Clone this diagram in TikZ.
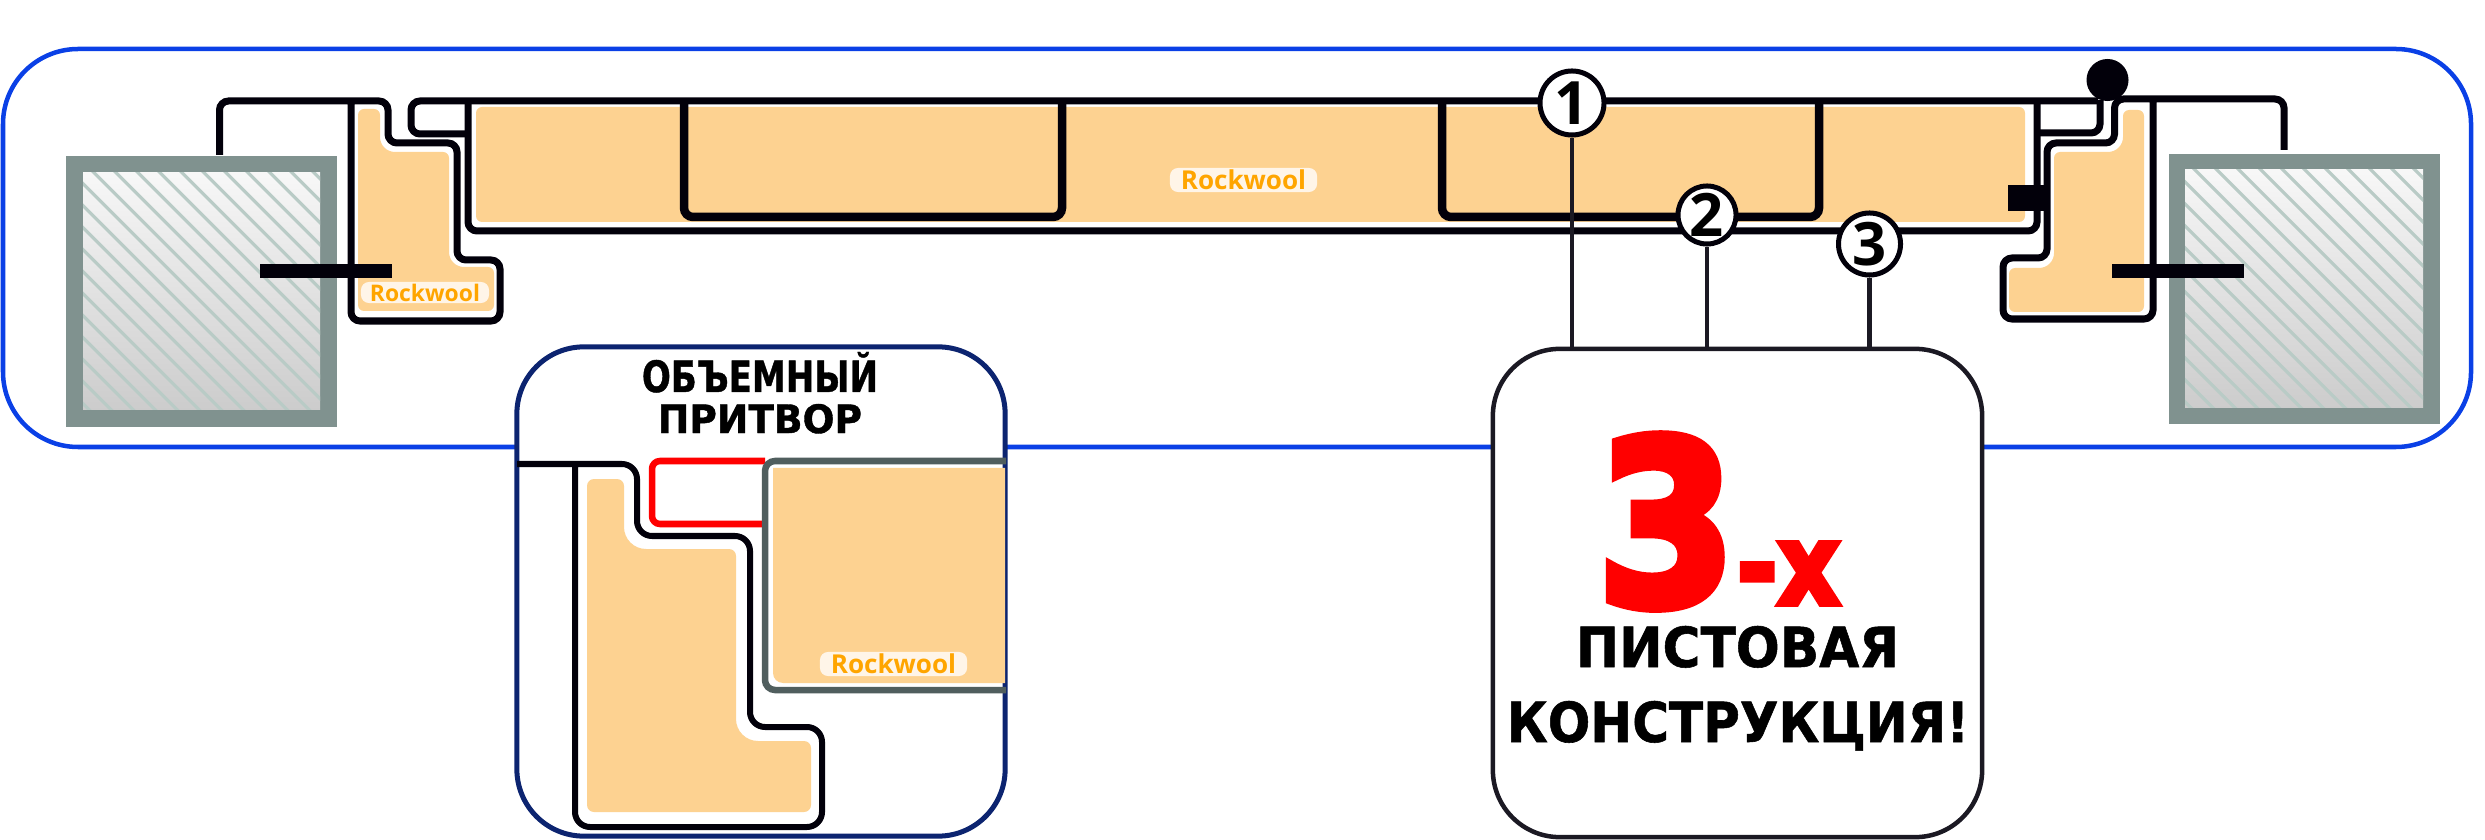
\documentclass[tikz,border=0pt]{standalone}
\usepackage{fontspec}
\usepackage{graphicx}
\usepackage{tikz}
\usetikzlibrary{positioning, calc}
\newfontfamily\woolfont{Open Sans}
\newfontfamily\technofont{DejaVu Sans}[BoldFeatures={FakeBold=1}]
\newfontfamily\heavyfont{DejaVu Sans}[BoldFeatures={FakeBold=5}]
\definecolor{outerblue}{HTML}{0A40E6}
\definecolor{insetnavy}{HTML}{0C2470}
\definecolor{wallgray}{HTML}{80928F}
\definecolor{hatchgray}{HTML}{B9CBC6}
\definecolor{woolfill}{HTML}{FDD291}
\definecolor{woolpill}{HTML}{FFF5E8}
\definecolor{woolink}{HTML}{FFA500}
\definecolor{leafgray}{HTML}{505E5E}
\definecolor{steel}{HTML}{02000A}

\begin{document}
\begin{tikzpicture}[
        x=0.01cm, y=-0.01cm,
        frameline/.style={draw=steel, line width=0.07cm, rounded corners=0.09cm},
        sheetline/.style={draw=steel, line width=0.085cm, rounded corners=0.09cm},
        wool/.style={fill=woolfill, rounded corners=0.06cm},
        woollabel/.style={rectangle, fill=woolpill, text=woolink, rounded corners=0.08cm, inner sep=0pt, minimum height=0.22cm, font=\woolfont\bfseries\fontsize{7.4}{9}\selectfont},
        bar/.style={fill=steel},
        panel/.style={rectangle, draw, fill=white, rounded corners=0.67cm, inner sep=0pt},
        numcircle/.style={circle, draw=steel, fill=white, line width=0.05cm, inner sep=0pt, minimum size=0.64cm, font=\woolfont\bfseries\fontsize{17}{19}\selectfont},
        leader/.style={draw=steel!90!white, line width=0.045cm},
        techno/.style={anchor=base, inner sep=0pt, font=\technofont\bfseries},
        bigred/.style={anchor=base, inner sep=0pt, text=red, font=\heavyfont\bfseries}
    ]
    \useasboundingbox (0,0) rectangle (2485,840);

    \draw [draw=outerblue, line width=0.045cm, rounded corners=0.75cm] (3,49) rectangle (2471,447);

    \foreach \xa/\xb/\ya/\yb/\xc/\xd/\yc/\yd/\phase in {66/337/156/427/83/320/173/410/-78.6, 2169/2440/154/424/2185/2423/170/408/2025} {
        \fill [wallgray] (\xa,\ya) rectangle (\xb,\yb);
        \shade [top color=white!97!black, bottom color=black!20] (\xc,\yc) rectangle (\xd,\yd);
        \begin{scope}
            \clip (\xc,\yc) rectangle (\xd,\yd);
            \foreach \k in {-14,...,12}
                \draw [hatchgray, line width=0.032cm] ({\xc-20},{\xc-20-\phase-22*\k}) -- ({\xd+20},{\xd+20-\phase-22*\k});
        \end{scope}
    }

    \fill [wool] (358,109) -- (380,109) [rounded corners=0.15cm] -- (380,152) [rounded corners=0.06cm] -- (449,152) [rounded corners=0.15cm] -- (449,267) [rounded corners=0.06cm] -- (494,267) -- (494,311) -- (358,311) -- cycle;
    \fill [wool] (2144,110) -- (2123,110) [rounded corners=0.15cm] -- (2123,152) [rounded corners=0.06cm] -- (2054,152) [rounded corners=0.15cm] -- (2054,268) [rounded corners=0.06cm] -- (2009,268) -- (2009,312) -- (2144,312) -- cycle;
    \fill [wool] (476,107) rectangle (2025,222);

    \draw [frameline] (219.5,155) -- (219.5,101) -- (388,101) -- (388,143) -- (457,143) -- (457,260) -- (500,260) -- (500,321) -- (351,321) -- (351,101);
    \draw [frameline] (2284,150) -- (2284,99) -- (2114.5,99) -- (2114.5,143) -- (2047,143) -- (2047,258) -- (2003,258) -- (2003,319) -- (2153,319) -- (2153,99);

    \draw [frameline] (465,134) -- (411,134) -- (411,101) -- (2098,101);
    \draw [frameline] (468,101) -- (468,231) -- (2037,231) -- (2037,101);
    \draw [frameline] (2037,133) -- (2100,133) -- (2100,100);
    \draw [sheetline] (684,101) -- (684,217) -- (1062,217) -- (1062,101);
    \draw [sheetline] (1442,101) -- (1442,217) -- (1819,217) -- (1819,101);

    \fill [bar] (260,264) rectangle (392,278);
    \fill [bar] (2112,264) rectangle (2244,278);
    \fill [bar] (2008,185) rectangle (2045,211);
    \node (ball) [circle, fill=steel, inner sep=0pt, minimum size=0.42cm] at (2107.5,80) {};

    \node (woolleft) [woollabel, minimum width=1.28cm, minimum height=0.21cm, font=\woolfont\bfseries\fontsize{6.5}{8}\selectfont] at (425,292.5) {Rockwool};
    \node (woolleaf) [woollabel, minimum width=1.47cm, minimum height=0.24cm] at (1243.5,180) {Rockwool};

    \node (insetbox) [panel, draw=insetnavy, line width=0.05cm, minimum width=4.88cm, minimum height=4.89cm] at (761,591.5) {};
    \fill [wool, rounded corners=0pt] (1005,468) -- (773,468) [rounded corners=0.1cm] -- (773,683) [rounded corners=0pt] -- (1005,683) -- cycle;
    \fill [wool, rounded corners=0.07cm] (587,479) -- (624,479) [rounded corners=0.22cm] -- (624,549) [rounded corners=0.07cm] -- (736,549) [rounded corners=0.22cm] -- (736,741) [rounded corners=0.07cm] -- (811,741) -- (811,812) -- (587,812) -- cycle;
    \draw [frameline, line width=0.06cm, rounded corners=0.15cm] (517,464) -- (637,464) -- (637,536) -- (750,536) -- (750,727) -- (822,727) -- (822,827) -- (575,827) -- (575,464);
    \draw [draw=red, line width=0.065cm, rounded corners=0.08cm] (765,461) -- (652,461) -- (652,524) -- (765,524);
    \draw [draw=leafgray, line width=0.065cm, rounded corners=0.1cm] (1006,461) -- (765,461) -- (765,690) -- (1006,690);
    \node (woolinset) [woollabel, minimum width=1.47cm, minimum height=0.24cm] at (893.5,664) {Rockwool};

    \node (titleone) [techno] at (760,392) {\resizebox{2.36cm}{0.40cm}{ОБЪЕМНЫЙ}};
    \node (titletwo) [techno] at (760,433) {\resizebox{2.04cm}{0.29cm}{ПРИТВОР}};

    \node (frontbox) [panel, draw=steel!90!white, line width=0.045cm, minimum width=4.89cm, minimum height=4.88cm] at (1737.5,593) {};
    \node (three) [bigred] at (1666.5,604) {\resizebox{1.38cm}{1.68cm}{3}};
    \node (suffix) [bigred] at (1788.5,604) {\resizebox{1.03cm}{0.61cm}{-х}};
    \node (lineone) [techno] at (1737.5,667) {\resizebox{3.23cm}{0.41cm}{ПИСТОВАЯ}};
    \node (linetwo) [techno] at (1738,742) {\resizebox{4.62cm}{0.41cm}{КОНСТРУКЦИЯ!}};

    \node (num1) [numcircle] at (1572,103) {1};
    \node (num2) [numcircle, minimum size=0.58cm] at (1707,215) {2};
    \node (num3) [numcircle, minimum size=0.62cm] at (1869.5,244) {3};

    \draw [leader] (num1) -- (num1 |- frontbox.north);
    \draw [leader] (num2) -- (num2 |- frontbox.north);
    \draw [leader] (num3) -- (num3 |- frontbox.north);
\end{tikzpicture}
\end{document}
